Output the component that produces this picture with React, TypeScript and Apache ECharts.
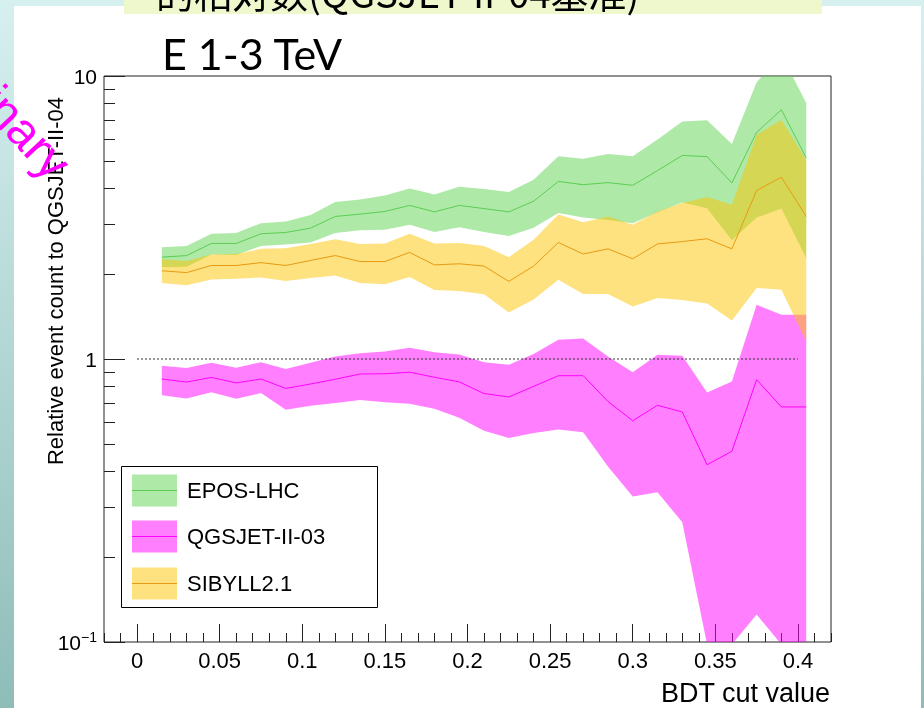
import React, { useEffect, useRef } from "react";
import * as echarts from "echarts";

// BDT cut values (x positions of the graph points)
const cutValues = [0.015, 0.03, 0.045, 0.06, 0.075, 0.09, 0.105, 0.12, 0.135, 0.15, 0.165, 0.18, 0.195, 0.21, 0.225, 0.24, 0.255, 0.27, 0.285, 0.3, 0.315, 0.33, 0.345, 0.36, 0.375, 0.39, 0.405];

// EPOS-LHC relative event count (centre, upper and lower band edge)
const eposCenter = [2.29, 2.32, 2.56, 2.56, 2.77, 2.80, 2.90, 3.19, 3.25, 3.32, 3.49, 3.31, 3.49, 3.40, 3.31, 3.61, 4.24, 4.13, 4.20, 4.11, 4.63, 5.24, 5.19, 4.19, 6.32, 7.60, 5.14];
const eposUpper = [2.48, 2.51, 2.77, 2.79, 3.02, 3.06, 3.23, 3.59, 3.66, 3.78, 4.00, 3.81, 4.06, 3.99, 3.89, 4.30, 5.20, 5.10, 5.30, 5.20, 5.96, 6.91, 6.97, 5.75, 9.50, 11.9, 8.03];
const eposLower = [2.11, 2.12, 2.34, 2.33, 2.51, 2.54, 2.58, 2.79, 2.85, 2.86, 2.98, 2.81, 2.92, 2.81, 2.72, 2.91, 3.28, 3.16, 3.10, 3.02, 3.30, 3.57, 3.41, 2.63, 3.16, 3.40, 2.27];

// QGSJET-II-03
const qgsCenter = [0.850, 0.829, 0.861, 0.823, 0.850, 0.787, 0.816, 0.848, 0.885, 0.887, 0.898, 0.862, 0.830, 0.755, 0.734, 0.800, 0.873, 0.873, 0.708, 0.605, 0.686, 0.650, 0.423, 0.472, 0.845, 0.677, 0.677];
const qgsUpper = [0.947, 0.929, 0.970, 0.932, 0.974, 0.922, 0.970, 1.021, 1.047, 1.064, 1.096, 1.057, 1.038, 0.974, 0.955, 1.042, 1.170, 1.181, 1.021, 0.897, 1.036, 1.027, 0.762, 0.833, 1.555, 1.434, 1.434];
const qgsLower = [0.745, 0.725, 0.763, 0.724, 0.758, 0.662, 0.684, 0.699, 0.716, 0.704, 0.695, 0.667, 0.620, 0.558, 0.526, 0.548, 0.563, 0.551, 0.417, 0.327, 0.338, 0.265, 0.098, 0.098, 0.125, 0.098, 0.098];

// SIBYLL2.1
const sibCenter = [2.05, 2.02, 2.14, 2.14, 2.19, 2.14, 2.23, 2.32, 2.21, 2.21, 2.38, 2.15, 2.17, 2.13, 1.88, 2.13, 2.58, 2.35, 2.45, 2.26, 2.55, 2.60, 2.66, 2.45, 3.94, 4.39, 3.19];
const sibUpper = [2.25, 2.22, 2.34, 2.35, 2.45, 2.46, 2.55, 2.65, 2.55, 2.56, 2.77, 2.56, 2.57, 2.51, 2.29, 2.64, 3.24, 3.04, 3.19, 2.98, 3.32, 3.56, 3.74, 3.51, 6.20, 7.01, 5.05];
const sibLower = [1.856, 1.823, 1.911, 1.922, 1.941, 1.888, 1.933, 1.972, 1.856, 1.838, 1.949, 1.753, 1.739, 1.694, 1.461, 1.624, 1.906, 1.698, 1.698, 1.534, 1.643, 1.616, 1.571, 1.369, 1.782, 1.758, 1.154];

// axis ticks
const xTickLabels = [0, 0.05, 0.1, 0.15, 0.2, 0.25, 0.3, 0.35, 0.4];
const yMinorTicks = [0.2, 0.3, 0.4, 0.5, 0.6, 0.7, 0.8, 0.9, 2, 3, 4, 5, 6, 7, 8, 9];
const referenceLine = [[0, 1], [0.4, 1]];

const legendNames = ["EPOS-LHC", "QGSJET-II-03", "SIBYLL2.1"];

const FONT = "'Liberation Sans', Arial, Helvetica, sans-serif";
const GREEN_FILL = "rgba(93,211,81,0.5)";
const GREEN_LINE = "#5ccd52";
const MAG_FILL = "rgba(255,0,255,0.5)";
const MAG_LINE = "#ff00ff";
const YEL_FILL = "rgba(251,197,0,0.5)";
const ORANGE_LINE = "#e89a12";

function band(name: string, upper: number[], lower: number[], fill: string, z: number) {
  const data = cutValues.map((x, i) => [x, lower[i], upper[i]]);
  return {
    type: "custom",
    name,
    z,
    clip: true,
    silent: true,
    xAxisIndex: 0,
    yAxisIndex: 0,
    encode: { x: 0, y: [1, 2] },
    data,
    renderItem: (params: any, api: any) => {
      if (params.dataIndex !== 0) return null;
      const top = data.map((d) => api.coord([d[0], d[2]]));
      const bottom = data.map((d) => api.coord([d[0], d[1]])).reverse();
      return {
        type: "polygon",
        shape: { points: top.concat(bottom) },
        style: { fill, stroke: null },
      };
    },
  };
}

function centerLine(name: string, center: number[], color: string, z: number) {
  return {
    type: "line",
    name,
    z,
    silent: true,
    xAxisIndex: 0,
    yAxisIndex: 0,
    data: cutValues.map((x, i) => [x, center[i]]),
    showSymbol: false,
    symbol: "none",
    clip: true,
    lineStyle: { color, width: 1 },
    itemStyle: { color },
  };
}

const legendColors = [
  { fill: GREEN_FILL, line: GREEN_LINE },
  { fill: MAG_FILL, line: MAG_LINE },
  { fill: YEL_FILL, line: ORANGE_LINE },
];
const legendRowsY = [490.5, 536.5, 583.5];

function legendGraphics() {
  const els: any[] = [
    {
      type: "rect",
      z: 100,
      shape: { x: 121.5, y: 466.5, width: 256, height: 141 },
      style: { fill: "#fff", stroke: "#000", lineWidth: 1 },
    },
  ];
  legendNames.forEach((name, i) => {
    const cy = legendRowsY[i];
    els.push({
      type: "rect",
      z: 101,
      shape: { x: 132, y: cy - 16, width: 45, height: 32 },
      style: { fill: legendColors[i].fill },
    });
    els.push({
      type: "line",
      z: 102,
      shape: { x1: 132, y1: cy, x2: 177, y2: cy },
      style: { stroke: legendColors[i].line, lineWidth: 1 },
    });
    els.push({
      type: "text",
      z: 102,
      x: 187,
      y: cy,
      style: {
        text: name,
        fill: "#000",
        fontSize: 22,
        fontFamily: FONT,
        align: "left",
        verticalAlign: "middle",
      },
    });
  });
  return els;
}

const option: any = {
  animation: false,
  backgroundColor: "transparent",
  grid: {
    left: 104,
    top: 76,
    right: 93,
    bottom: 66,
    show: true,
    borderColor: "#222",
    borderWidth: 1,
    backgroundColor: "transparent",
    z: 1,
  },
  xAxis: [
    {
      type: "value",
      min: -0.02,
      max: 0.42,
      position: "bottom",
      axisLine: { show: false, onZero: false },
      splitLine: { show: false },
      axisTick: {
        show: true,
        inside: true,
        length: 18,
        customValues: xTickLabels,
        lineStyle: { color: "#222", width: 1 },
      },
      axisLabel: {
        show: true,
        customValues: xTickLabels,
        margin: 7,
        color: "#000",
        fontSize: 22,
        fontFamily: FONT,
        formatter: (v: number) => String(+v.toFixed(2)),
      },
    },
    {
      type: "value",
      min: -0.02,
      max: 0.42,
      interval: 0.01,
      position: "bottom",
      axisLine: { show: false, onZero: false },
      splitLine: { show: false },
      axisLabel: { show: false },
      axisTick: { show: true, inside: true, length: 9, lineStyle: { color: "#222", width: 1 } },
    },
  ],
  yAxis: [
    {
      type: "log",
      logBase: 10,
      min: 0.1,
      max: 10,
      position: "left",
      axisLine: { show: false, onZero: false },
      splitLine: { show: false },
      minorTick: { show: false },
      axisTick: { show: true, inside: true, length: 21, lineStyle: { color: "#222", width: 1 } },
      axisLabel: {
        margin: 7,
        color: "#000",
        fontSize: 21,
        fontFamily: FONT,
        formatter: (v: number) => {
          if (v >= 9.99) return "{n|10}";
          if (v >= 0.99) return "{n|1}";
          return "{n|10}{s|−1}";
        },
        rich: {
          n: { fontSize: 21, fontFamily: FONT, color: "#000", lineHeight: 24 },
          s: { fontSize: 14, fontFamily: FONT, color: "#000", lineHeight: 10, verticalAlign: "top" },
        },
      },
    },
    {
      type: "value",
      min: -1,
      max: 1,
      position: "left",
      axisLine: { show: false, onZero: false },
      splitLine: { show: false },
      axisLabel: { show: false },
      axisTick: {
        show: true,
        inside: true,
        length: 11,
        customValues: yMinorTicks.map((v) => Math.log10(v)),
        lineStyle: { color: "#222", width: 1 },
      },
    },
  ],
  series: [
    band("EPOS-LHC band", eposUpper, eposLower, GREEN_FILL, 2),
    centerLine("EPOS-LHC", eposCenter, GREEN_LINE, 3),
    band("QGSJET-II-03 band", qgsUpper, qgsLower, MAG_FILL, 4),
    centerLine("QGSJET-II-03", qgsCenter, MAG_LINE, 5),
    band("SIBYLL2.1 band", sibUpper, sibLower, YEL_FILL, 6),
    centerLine("SIBYLL2.1", sibCenter, ORANGE_LINE, 7),
    {
      type: "line",
      name: "reference",
      z: 8,
      silent: true,
      data: referenceLine,
      showSymbol: false,
      symbol: "none",
      lineStyle: { color: "#333", width: 1, type: [2, 2] },
    },
  ],
  graphic: [
    // slide background
    {
      type: "rect",
      z: -20,
      shape: { x: 0, y: 0, width: 924, height: 708 },
      style: {
        fill: {
          type: "linear",
          x: 0,
          y: 0,
          x2: 0,
          y2: 1,
          colorStops: [
            { offset: 0, color: "#d6f0ef" },
            { offset: 1, color: "#8ebdb8" },
          ],
        },
      },
    },
    { type: "rect", z: -19, shape: { x: 14, y: 6, width: 907, height: 702 }, style: { fill: "#ffffff" } },
    { type: "rect", z: -18, shape: { x: 124, y: 0, width: 698, height: 14 }, style: { fill: "#eff7cc" } },
    {
      type: "text",
      z: -17,
      x: 156,
      y: -9,
      style: {
        text: "的相对数(QGSJET-II-04基准)",
        fill: "#000",
        fontSize: 38,
        fontFamily: "'Noto Sans CJK SC', sans-serif",
        align: "left",
        verticalAlign: "middle",
      },
    },
    {
      type: "text",
      z: 50,
      x: 162,
      y: 53,
      style: {
        text: "E 1-3 TeV",
        fill: "#000",
        fontSize: 43,
        fontFamily: "Lato, 'Open Sans', sans-serif",
        align: "left",
        verticalAlign: "middle",
      },
    },
    {
      type: "text",
      z: 50,
      x: 55,
      y: 97,
      rotation: Math.PI / 2,
      style: {
        text: "Relative event count to QGSJET-II-04",
        fill: "#000",
        fontSize: 22,
        fontFamily: FONT,
        align: "right",
        verticalAlign: "middle",
      },
    },
    {
      type: "text",
      z: 50,
      x: 830,
      y: 693,
      style: {
        text: "BDT cut value",
        fill: "#000",
        fontSize: 27,
        fontFamily: FONT,
        align: "right",
        verticalAlign: "middle",
      },
    },
    ...legendGraphics(),
    {
      type: "text",
      z: 120,
      x: 62,
      y: 171,
      rotation: -0.82,
      style: {
        text: "Preliminary",
        fill: "#ff00ff",
        fontSize: 49,
        fontFamily: FONT,
        align: "right",
        verticalAlign: "middle",
      },
    },
  ],
};

export default function App() {
  const ref = useRef<HTMLDivElement>(null);
  useEffect(() => {
    if (!ref.current) return;
    const chart = echarts.init(ref.current, null, { renderer: "svg" });
    chart.setOption(option);
    return () => chart.dispose();
  }, []);
  return (
    <div
      ref={ref}
      style={{ position: "fixed", left: 0, top: 0, width: 924, height: 708 }}
    />
  );
}
